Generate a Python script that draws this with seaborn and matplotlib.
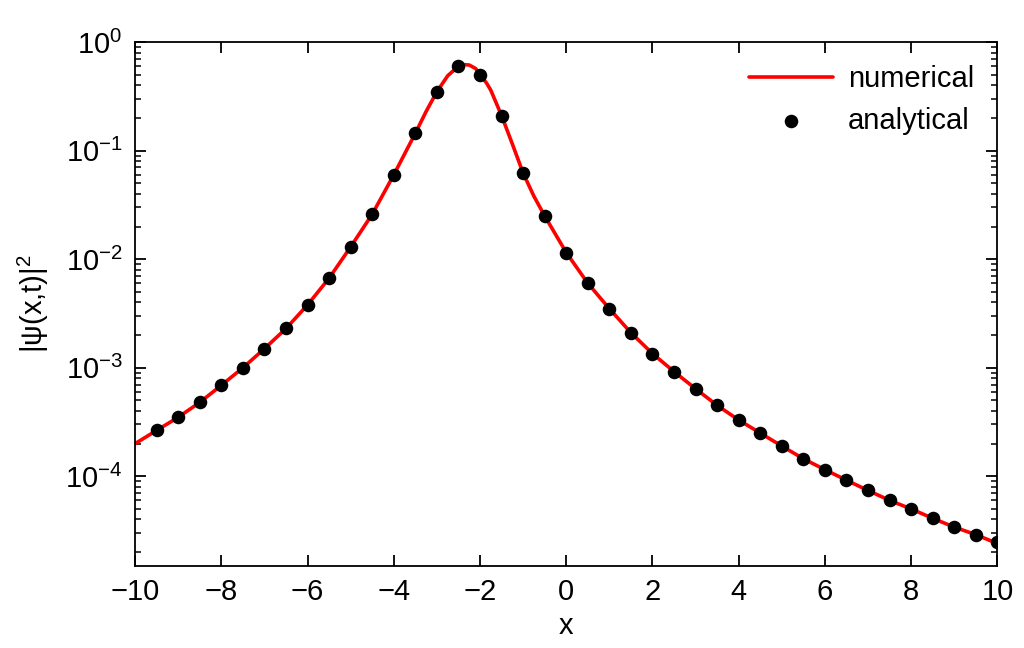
import numpy as np
import pandas as pd
import seaborn as sns
import matplotlib.pyplot as plt
from matplotlib.ticker import LogLocator, NullFormatter, MultipleLocator

# pontos analíticos
x_analytical = [-9.5, -9.0, -8.5, -8.0, -7.5, -7.0, -6.5, -6.0, -5.5, -5.0,
                -4.5, -4.0, -3.5, -3.0, -2.5, -2.0, -1.5, -1.0, -0.5, 0.0,
                0.5, 1.0, 1.5, 2.0, 2.5, 3.0, 3.5, 4.0, 4.5, 5.0,
                5.5, 6.0, 6.5, 7.0, 7.5, 8.0, 8.5, 9.0, 9.5, 10.0]
psi_analytical = [2.65e-4, 3.5e-4, 4.8e-4, 6.9e-4, 1.0e-3, 1.5e-3, 2.3e-3, 3.8e-3, 6.7e-3, 1.3e-2,
                  2.6e-2, 6.0e-2, 0.145, 0.35, 0.60, 0.50, 0.21, 0.062, 0.025, 0.0115,
                  6.0e-3, 3.5e-3, 2.1e-3, 1.35e-3, 9.2e-4, 6.4e-4, 4.5e-4, 3.3e-4, 2.5e-4, 1.9e-4,
                  1.45e-4, 1.15e-4, 9.2e-5, 7.4e-5, 6.0e-5, 5.0e-5, 4.1e-5, 3.4e-5, 2.9e-5, 2.5e-5]

x_numerical = [-10.0, -9.5, -9.0, -8.5, -8.0, -7.5, -7.0, -6.5, -6.0, -5.5, -5.0,
               -4.5, -4.0, -3.5, -3.25, -3.0, -2.75, -2.5, -2.35, -2.25, -2.1, -2.0, -1.85,
               -1.75, -1.5, -1.25, -1.0, -0.75, -0.5, 0.0,
               0.5, 1.0, 1.5, 2.0, 2.5, 3.0, 3.5, 4.0, 4.5, 5.0,
               5.5, 6.0, 6.5, 7.0, 7.5, 8.0, 8.5, 9.0, 9.5, 10.0]
psi_numerical = [2.0e-4, 2.65e-4, 3.5e-4, 4.8e-4, 6.9e-4, 1.0e-3, 1.5e-3, 2.3e-3, 3.8e-3, 6.7e-3, 1.3e-2,
                 2.6e-2, 6.0e-2, 0.145, 0.23, 0.35, 0.49, 0.60, 0.62, 0.615, 0.57, 0.50, 0.42,
                 0.36, 0.21, 0.115, 0.062, 0.038, 0.025, 0.0115,
                 6.0e-3, 3.5e-3, 2.1e-3, 1.35e-3, 9.2e-4, 6.4e-4, 4.5e-4, 3.3e-4, 2.5e-4, 1.9e-4,
                 1.45e-4, 1.15e-4, 9.2e-5, 7.4e-5, 6.0e-5, 5.0e-5, 4.1e-5, 3.4e-5, 2.9e-5, 2.4e-5]

df_num = pd.DataFrame({'x': x_numerical, 'psi': psi_numerical})
df_ana = pd.DataFrame({'x': x_analytical, 'psi': psi_analytical})

sns.set_style('ticks', {'axes.edgecolor': 'black', 'text.color': 'black',
                        'xtick.color': 'black', 'ytick.color': 'black',
                        'axes.labelcolor': 'black'})
plt.rcParams['font.family'] = ['Liberation Sans', 'DejaVu Sans']
plt.rcParams['mathtext.fontset'] = 'custom'
plt.rcParams['mathtext.rm'] = 'Liberation Sans'

fig = plt.figure(figsize=(10.24, 6.48), dpi=100)
ax = fig.add_axes([0.132, 0.127, 0.842, 0.808])

sns.lineplot(data=df_num, x='x', y='psi', color='red', linewidth=2.6,
             label='numerical', ax=ax)
sns.scatterplot(data=df_ana, x='x', y='psi', color='black', s=95,
                edgecolor='black', linewidth=0, label='analytical', ax=ax, zorder=3)

ax.set_yscale('log')
ax.set_xlim(-10, 10)
ax.set_ylim(1.5e-5, 1)
ax.xaxis.set_major_locator(MultipleLocator(2))
ax.yaxis.set_major_locator(LogLocator(base=10, numticks=10))
ax.yaxis.set_minor_locator(LogLocator(base=10, subs=np.arange(2, 10), numticks=20))
ax.yaxis.set_minor_formatter(NullFormatter())
ax.set_xticks(np.arange(-10, 11, 2))
ax.set_xticklabels([f'{v}'.replace('-', '\u2212') for v in range(-10, 11, 2)])

ax.tick_params(which='both', direction='in', top=True, right=True, labelsize=21)
ax.tick_params(which='major', length=8, width=1.3, pad=9)
ax.tick_params(which='minor', length=4, width=1.1)
for s in ax.spines.values():
    s.set_linewidth(1.3)

ax.set_xlabel('x', fontsize=21, labelpad=4)
ax.set_ylabel('|\u03c8(x,t)|$^2$', fontsize=21, labelpad=10)

ax.legend(loc='upper right', frameon=False, fontsize=21, handlelength=2.9,
          borderaxespad=0.4, labelspacing=0.45, handletextpad=0.5)

fig.savefig('out.png', dpi=100)
